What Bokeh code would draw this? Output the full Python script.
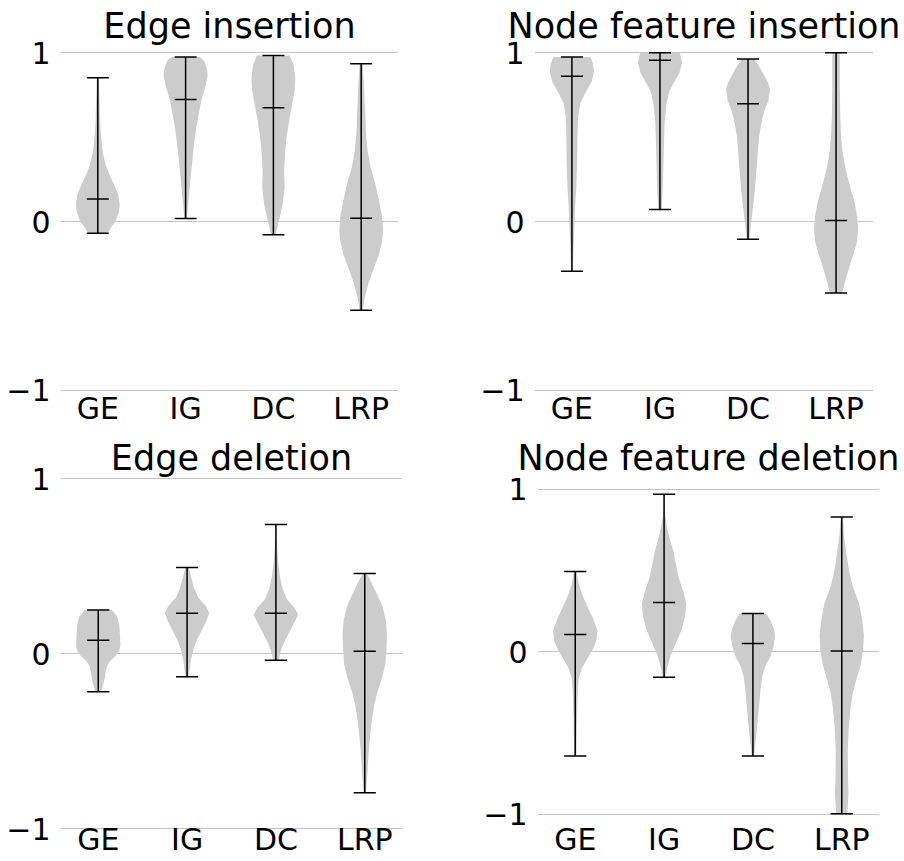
from bokeh.plotting import figure
from bokeh.layouts import column, row
from bokeh.models import Range1d, FixedTicker, CustomJSTickFormatter
from bokeh.embed import file_html
from bokeh.resources import INLINE

# ---------------- data ----------------
methods = ["GE", "IG", "DC", "LRP"]
positions = [1, 2, 3, 4]
titles = ["Edge insertion", "Node feature insertion", "Edge deletion", "Node feature deletion"]
y_ticks = [-1, 0, 1]

# Edge insertion
ei_min = [-0.069, 0.018, -0.079, -0.526]
ei_med = [0.134, 0.723, 0.674, 0.020]
ei_max = [0.853, 0.975, 0.985, 0.936]
ei_ge_y = [0.853, 0.75, 0.65, 0.55, 0.47, 0.40, 0.34, 0.28, 0.22, 0.16, 0.10, 0.05, 0.0, -0.035, -0.069]
ei_ge_w = [0.05, 0.07, 0.09, 0.12, 0.17, 0.24, 0.35, 0.52, 0.74, 0.93, 1.0, 0.95, 0.8, 0.6, 0.45]
ei_ig_y = [0.975, 0.95, 0.90, 0.86, 0.80, 0.72, 0.64, 0.55, 0.45, 0.35, 0.25, 0.15, 0.08, 0.018]
ei_ig_w = [0.65, 0.85, 0.98, 1.0, 0.9, 0.72, 0.6, 0.48, 0.38, 0.3, 0.22, 0.15, 0.1, 0.06]
ei_dc_y = [0.985, 0.93, 0.85, 0.78, 0.70, 0.60, 0.50, 0.40, 0.30, 0.20, 0.10, 0.02, -0.04, -0.079]
ei_dc_w = [0.75, 0.92, 1.0, 0.97, 0.86, 0.72, 0.6, 0.53, 0.49, 0.51, 0.42, 0.28, 0.17, 0.1]
ei_lrp_y = [0.936, 0.80, 0.65, 0.52, 0.42, 0.32, 0.22, 0.12, 0.03, -0.05, -0.12, -0.20, -0.28, -0.37, -0.46, -0.526]
ei_lrp_w = [0.07, 0.13, 0.18, 0.22, 0.29, 0.43, 0.65, 0.82, 0.95, 1.0, 0.95, 0.8, 0.57, 0.32, 0.15, 0.07]

# Node feature insertion
ni_min = [-0.295, 0.071, -0.105, -0.424]
ni_med = [0.861, 0.956, 0.699, 0.006]
ni_max = [0.976, 1.0, 0.964, 1.0]
ni_ge_y = [0.976, 0.93, 0.89, 0.83, 0.76, 0.70, 0.62, 0.50, 0.35, 0.20, 0.10, 0.0, -0.10, -0.20, -0.295]
ni_ge_w = [0.85, 0.97, 1.0, 0.9, 0.6, 0.38, 0.28, 0.25, 0.24, 0.2, 0.15, 0.12, 0.09, 0.06, 0.04]
ni_ig_y = [1.0, 0.94, 0.88, 0.82, 0.77, 0.70, 0.60, 0.50, 0.40, 0.30, 0.20, 0.12, 0.071]
ni_ig_w = [0.9, 1.0, 0.88, 0.62, 0.42, 0.3, 0.22, 0.19, 0.17, 0.15, 0.13, 0.1, 0.08]
ni_dc_y = [0.964, 0.92, 0.87, 0.82, 0.78, 0.72, 0.65, 0.58, 0.50, 0.40, 0.30, 0.20, 0.10, 0.0, -0.06, -0.105]
ni_dc_w = [0.3, 0.5, 0.72, 0.92, 1.0, 0.93, 0.73, 0.6, 0.5, 0.44, 0.38, 0.32, 0.24, 0.15, 0.1, 0.07]
ni_lrp_y = [1.0, 0.82, 0.63, 0.50, 0.43, 0.36, 0.29, 0.20, 0.12, 0.03, -0.05, -0.12, -0.19, -0.27, -0.36, -0.424]
ni_lrp_w = [0.17, 0.17, 0.19, 0.23, 0.28, 0.36, 0.47, 0.65, 0.83, 0.96, 1.0, 0.95, 0.8, 0.6, 0.4, 0.28]

# Edge deletion
ed_min = [-0.219, -0.133, -0.038, -0.796]
ed_med = [0.076, 0.230, 0.230, 0.013]
ed_max = [0.248, 0.491, 0.737, 0.457]
ed_ge_y = [0.248, 0.21, 0.16, 0.10, 0.05, 0.02, -0.01, -0.04, -0.07, -0.10, -0.14, -0.18, -0.219]
ed_ge_w = [0.62, 0.86, 0.95, 0.98, 1.0, 0.96, 0.82, 0.55, 0.4, 0.34, 0.29, 0.22, 0.14]
ed_ig_y = [0.491, 0.44, 0.38, 0.32, 0.27, 0.23, 0.18, 0.13, 0.08, 0.03, -0.03, -0.09, -0.133]
ed_ig_w = [0.08, 0.18, 0.3, 0.5, 0.85, 1.0, 0.85, 0.65, 0.45, 0.3, 0.18, 0.12, 0.07]
ed_dc_y = [0.737, 0.62, 0.52, 0.44, 0.37, 0.31, 0.26, 0.22, 0.17, 0.12, 0.07, 0.02, -0.038]
ed_dc_w = [0.02, 0.05, 0.1, 0.18, 0.3, 0.5, 0.85, 1.0, 0.8, 0.6, 0.4, 0.23, 0.12]
ed_lrp_y = [0.457, 0.40, 0.34, 0.27, 0.19, 0.11, 0.03, -0.06, -0.14, -0.22, -0.30, -0.40, -0.50, -0.60, -0.70, -0.796]
ed_lrp_w = [0.1, 0.32, 0.55, 0.8, 0.95, 1.0, 0.98, 0.93, 0.78, 0.57, 0.42, 0.3, 0.22, 0.16, 0.11, 0.06]

# Node feature deletion
nd_min = [-0.640, -0.156, -0.640, -0.996]
nd_med = [0.107, 0.305, 0.053, 0.006]
nd_max = [0.496, 0.971, 0.237, 0.831]
nd_ge_y = [0.496, 0.42, 0.35, 0.28, 0.20, 0.13, 0.07, 0.02, -0.04, -0.10, -0.16, -0.25, -0.35, -0.45, -0.55, -0.64]
nd_ge_w = [0.06, 0.16, 0.32, 0.55, 0.82, 1.0, 0.95, 0.8, 0.55, 0.3, 0.16, 0.11, 0.09, 0.07, 0.06, 0.05]
nd_ig_y = [0.971, 0.85, 0.77, 0.70, 0.62, 0.54, 0.46, 0.38, 0.30, 0.22, 0.14, 0.06, -0.02, -0.09, -0.156]
nd_ig_w = [0.02, 0.04, 0.12, 0.25, 0.42, 0.53, 0.65, 0.85, 1.0, 0.95, 0.8, 0.55, 0.3, 0.15, 0.06]
nd_dc_y = [0.237, 0.19, 0.14, 0.09, 0.03, -0.03, -0.09, -0.15, -0.22, -0.30, -0.40, -0.50, -0.58, -0.64]
nd_dc_w = [0.6, 0.8, 0.95, 1.0, 0.92, 0.78, 0.55, 0.42, 0.35, 0.3, 0.23, 0.16, 0.1, 0.05]
nd_lrp_y = [0.831, 0.72, 0.60, 0.50, 0.40, 0.30, 0.20, 0.10, 0.0, -0.08, -0.16, -0.24, -0.34, -0.46, -0.60, -0.75, -0.88, -0.996]
nd_lrp_w = [0.05, 0.1, 0.22, 0.33, 0.5, 0.78, 0.92, 1.0, 0.95, 0.85, 0.68, 0.52, 0.4, 0.32, 0.27, 0.28, 0.3, 0.25]

# ---------------- styling / layout ----------------
FONT = "DejaVu Sans"
VIOLIN_FILL = "#cccccc"
LINE = "#000000"
GRID = "#c4c4c4"
HALF_WIDTH = 0.25   # violin widths=0.5
CAP_HALF = 0.125

# frames of one row are aligned by Bokeh, so the y ranges place each panel's gridlines
geoms = [
    dict(width=452, height=430, left=60, right=54, top=48, bottom=37, t_stand=7, x_stand=-9, yr=(-1.02, 1.02)),
    dict(width=452, height=430, left=82, right=31, top=48, bottom=37, t_stand=7, x_stand=-9, yr=(-1.02, 1.02)),
    dict(width=452, height=431, left=60, right=50, top=46, bottom=30, t_stand=-2, x_stand=-16, yr=(-1.01714, 1.01143)),
    dict(width=452, height=431, left=85, right=25, top=46, bottom=30, t_stand=-2, x_stand=-16, yr=(-1.10462, 1.08)),
]


def make_panel(title, mins, meds, maxs, profiles, g):
    p = figure(width=g["width"], height=g["height"], output_backend="svg",
               toolbar_location=None, tools="",
               x_range=Range1d(0.575, 4.425), y_range=Range1d(*g["yr"]),
               min_border_left=g["left"], min_border_right=g["right"],
               min_border_top=g["top"], min_border_bottom=g["bottom"])
    p.outline_line_color = None
    p.background_fill_color = "white"
    p.border_fill_color = "white"

    p.title.text = title
    p.title.align = "center"
    p.title.text_font = FONT
    p.title.text_font_size = "35px"
    p.title.text_font_style = "normal"
    p.title.text_color = "black"
    p.title.standoff = g["t_stand"]

    for ax in (p.xaxis[0], p.yaxis[0]):
        ax.axis_line_color = None
        ax.major_tick_line_color = None
        ax.minor_tick_line_color = None
        ax.major_label_text_font = FONT
        ax.major_label_text_font_size = "30px"
        ax.major_label_text_color = "black"

    p.xaxis.ticker = FixedTicker(ticks=positions)
    p.xaxis.major_label_overrides = {pos: m for pos, m in zip(positions, methods)}
    p.xaxis.major_label_standoff = g["x_stand"]

    p.yaxis.ticker = FixedTicker(ticks=y_ticks)
    p.yaxis.formatter = CustomJSTickFormatter(
        code="return tick < 0 ? '\u2212' + String(Math.abs(tick)) : String(tick);")
    p.yaxis.major_label_standoff = 4

    p.xgrid.grid_line_color = None
    p.ygrid.ticker = FixedTicker(ticks=y_ticks)
    p.ygrid.grid_line_color = GRID
    p.ygrid.grid_line_width = 1

    for pos, (ys, ws) in zip(positions, profiles):
        x1 = [pos - HALF_WIDTH * w for w in ws]
        x2 = [pos + HALF_WIDTH * w for w in ws]
        p.harea(x1=x1, x2=x2, y=ys, fill_color=VIOLIN_FILL, fill_alpha=1.0)

    p.segment(x0=positions, y0=mins, x1=positions, y1=maxs, line_color=LINE, line_width=1.5)
    for vals in (mins, meds, maxs):
        p.segment(x0=[x - CAP_HALF for x in positions], y0=vals,
                  x1=[x + CAP_HALF for x in positions], y1=vals,
                  line_color=LINE, line_width=1.5)
    return p


p1 = make_panel(titles[0], ei_min, ei_med, ei_max,
                [(ei_ge_y, ei_ge_w), (ei_ig_y, ei_ig_w), (ei_dc_y, ei_dc_w), (ei_lrp_y, ei_lrp_w)], geoms[0])
p2 = make_panel(titles[1], ni_min, ni_med, ni_max,
                [(ni_ge_y, ni_ge_w), (ni_ig_y, ni_ig_w), (ni_dc_y, ni_dc_w), (ni_lrp_y, ni_lrp_w)], geoms[1])
p3 = make_panel(titles[2], ed_min, ed_med, ed_max,
                [(ed_ge_y, ed_ge_w), (ed_ig_y, ed_ig_w), (ed_dc_y, ed_dc_w), (ed_lrp_y, ed_lrp_w)], geoms[2])
p4 = make_panel(titles[3], nd_min, nd_med, nd_max,
                [(nd_ge_y, nd_ge_w), (nd_ig_y, nd_ig_w), (nd_dc_y, nd_dc_w), (nd_lrp_y, nd_lrp_w)], geoms[3])

layout = column(row(p1, p2, spacing=0), row(p3, p4, spacing=0), spacing=0)

with open("out.html", "w") as f:
    f.write(file_html(layout, INLINE))
